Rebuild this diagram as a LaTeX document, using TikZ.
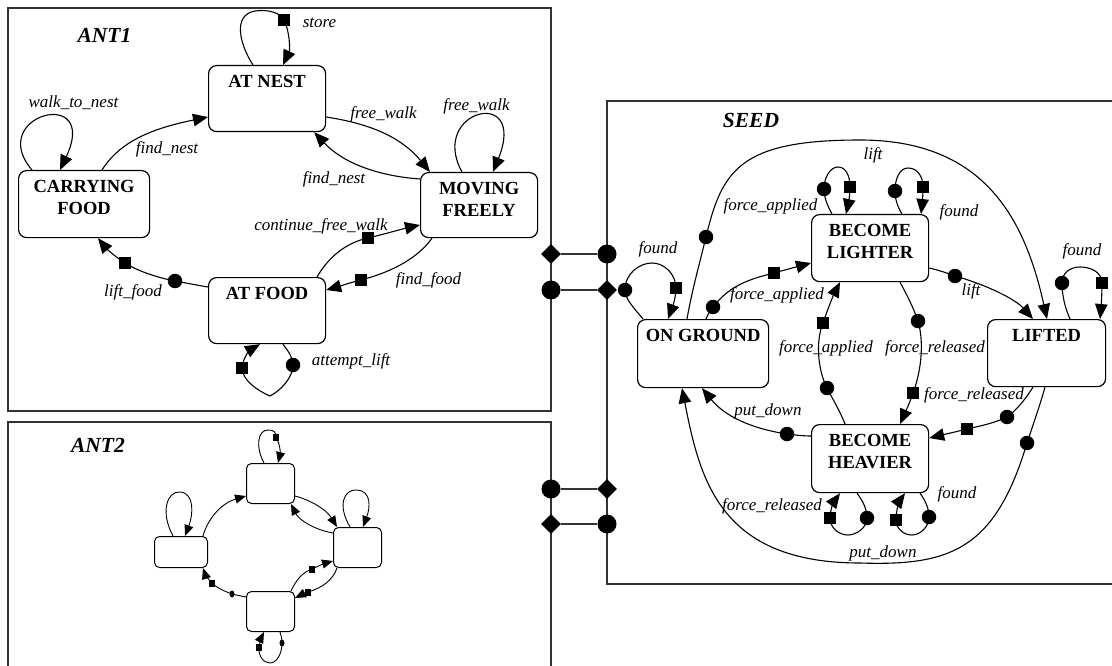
\documentclass[tikz,border=0pt]{standalone}
\usepackage{fontspec}
\setmainfont{Liberation Serif}
\usetikzlibrary{arrows.meta,shapes.geometric}
\newcommand\sttext[3]{\parbox[t][#2][t]{#1}{\centering\rule{0pt}{21.5pt}#3}}
\begin{document}
\begin{tikzpicture}[x=1pt,y=1pt,
  frame/.style={draw=black!80, line width=1.5pt, rectangle, inner sep=0pt, outer sep=0pt, anchor=north west},
  stnode/.style={draw, rounded corners=8pt, line width=1.2pt, inner sep=0pt, anchor=north west,
    font=\fontsize{18.5}{22}\selectfont\bfseries},
  smnode/.style={draw, rounded corners=5pt, line width=1pt, inner sep=0pt, anchor=north west},
  edge/.style={line width=1.1pt, -{Triangle[length=15pt,width=12.5pt]}},
  sedge/.style={line width=0.9pt, -{Triangle[length=11pt,width=9pt]}},
  sq/.style={rectangle, fill, inner sep=0pt, minimum size=12.5pt},
  ci/.style={circle, fill, inner sep=0pt, minimum size=14.5pt},
  sqs/.style={rectangle, fill, inner sep=0pt, minimum width=6pt, minimum height=7pt},
  cis/.style={ellipse, fill, inner sep=0pt, minimum width=5pt, minimum height=7pt},
  pdia/.style={diamond, fill, inner sep=0pt, minimum width=20pt, minimum height=20pt},
  pci/.style={circle, fill, inner sep=0pt, minimum size=19pt},
  portline/.style={line width=1.2pt, draw=black!80},
  lbl/.style={font=\fontsize{17}{17}\selectfont\itshape, inner sep=0pt},
  ttl/.style={font=\fontsize{21.5}{22}\selectfont\bfseries\itshape, inner sep=0pt}
]
\useasboundingbox (0,0) rectangle (1112,-666);
\clip (0,0) rectangle (1112,-666);
\fill[white] (0,0) rectangle (1112,-666);

% ---------- frames ----------
\node[frame, minimum width=543pt, minimum height=403pt] (ant1f) at (8,-8) {};
\node[frame, minimum width=543pt, minimum height=280pt] (ant2f) at (8,-422) {};
\node[frame, minimum width=540pt, minimum height=483pt] (seedf) at (607,-101) {};

\node[ttl] (t1) at (104.5,-35) {ANT1};
\node[ttl] (t2) at (98,-445) {ANT2};
\node[ttl] (t3) at (751,-120) {SEED};

% ---------- ANT1 states ----------
\node[stnode] (atnest) at (208,-65) {\sttext{117pt}{66pt}{AT NEST}};
\node[stnode] (carry) at (18,-170) {\sttext{131pt}{67pt}{CARRYING\\FOOD}};
\node[stnode] (moving) at (420,-172) {\sttext{117pt}{65pt}{MOVING\\FREELY}};
\node[stnode] (atfood) at (208,-277) {\sttext{117pt}{66pt}{AT FOOD}};

% ---------- ANT1 edges ----------
\draw[edge] ([xshift=45pt]atnest.north west) .. controls (240,-45) and (232,-15) .. (255,-11)
  .. controls (268,-9) and (281,-13) .. (284,-20) node[sq] (m1) {}
  .. controls (290,-32) and (290,-50) .. ([xshift=75pt]atnest.north west);
\draw[edge] ([xshift=14pt]carry.north west) .. controls (-15,-115) and (100,-85) .. ([xshift=42pt]carry.north west);
\draw[edge] ([xshift=84pt]carry.north west) .. controls (122,-138) and (160,-127) .. ([yshift=-52pt]atnest.north west);
\draw[edge] ([yshift=-52pt]atnest.north east) .. controls (372,-124) and (402,-138) .. ([xshift=10pt]moving.north west);
\draw[edge] ([yshift=-7pt]moving.north west) .. controls (378,-176) and (343,-163) .. ([xshift=-12pt]atnest.south east);
\draw[edge] ([xshift=42pt]moving.north west) .. controls (428,-110) and (528,-85) .. ([xshift=73pt]moving.north west);
\draw[edge] ([xshift=109pt]atfood.north west) .. controls (328,-258) and (345,-243) .. (368,-238) node[sq] (m2) {}
  .. controls (385,-234) and (402,-229) .. ([yshift=-53pt]moving.north west);
\draw[edge] ([xshift=12pt]moving.south west) .. controls (418,-258) and (392,-272) .. (361,-280) node[sq] (m3) {}
  .. controls (349,-283) and (337,-287) .. ([yshift=-13pt]atfood.north east);
\draw[edge] ([yshift=-10pt]atfood.north west) .. controls (196,-285) and (186,-283) .. (175,-281) node[ci] (m4) {}
  .. controls (155,-277) and (138,-271) .. (125,-263) node[sq] (m5) {}
  .. controls (114,-256) and (105,-247) .. ([xshift=80pt]carry.south west);
\draw[edge] ([xshift=75pt]atfood.south west) .. controls (288,-351) and (293,-357) .. (293,-365) node[ci] (m6) {}
  .. controls (293,-378) and (280,-391) .. (270,-396)
  .. controls (258,-391) and (242,-380) .. (242,-368) node[sq] (m7) {}
  .. controls (242,-360) and (250,-350) .. ([xshift=52pt]atfood.south west);

% ---------- ANT1 labels ----------
\node[lbl] (l1) at (319.5,-23) {store};
\node[lbl] (l2) at (73.5,-103) {walk\_to\_nest};
\node[lbl] (l3) at (167,-149) {find\_nest};
\node[lbl] (l4) at (383.5,-114) {free\_walk};
\node[lbl] (l5) at (476.5,-106) {free\_walk};
\node[lbl] (l6) at (334,-179) {find\_nest};
\node[lbl] (l7) at (321,-226) {continue\_free\_walk};
\node[lbl] (l8) at (428.5,-280) {find\_food};
\node[lbl] (l9) at (133,-292) {lift\_food};
\node[lbl] (l10) at (351,-361) {attempt\_lift};

% ---------- SEED states ----------
\node[stnode] (onground) at (637,-319) {\sttext{131pt}{68pt}{ON GROUND}};
\node[stnode] (lighter) at (811,-214) {\sttext{117pt}{67pt}{BECOME\\LIGHTER}};
\node[stnode] (lifted) at (987,-319) {\sttext{118pt}{67pt}{LIFTED}};
\node[stnode] (heavier) at (811,-424) {\sttext{117pt}{68pt}{BECOME\\HEAVIER}};

% ---------- SEED edges ----------
\draw[edge] ([xshift=50pt]onground.north west) .. controls (692,-290) and (701,-258) .. (706,-237) node[ci] (s1) {}
  .. controls (722,-170) and (740,-140) .. (860,-140)
  .. controls (985,-140) and (1025,-220) .. ([xshift=60pt]lifted.north west);
\draw[edge] ([xshift=6pt]onground.north west) .. controls (634,-308) and (625,-299) .. (625,-290) node[ci] (s2) {}
  .. controls (625,-273) and (640,-263) .. (652,-263)
  .. controls (665,-263) and (676,-275) .. (676,-288) node[sq] (s3) {}
  .. controls (676,-298) and (672,-308) .. ([xshift=31pt]onground.north west);
\draw[edge] ([xshift=69pt]onground.north west) .. controls (708,-314) and (710,-311) .. (713,-307) node[ci] (s4) {}
  .. controls (730,-285) and (750,-279) .. (774,-273) node[sq] (s5) {}
  .. controls (788,-269) and (800,-266) .. ([yshift=-49pt]lighter.north west);
\draw[edge] ([xshift=21pt]lighter.north west) .. controls (827,-205) and (824,-197) .. (824,-189) node[ci] (s6) {}
  .. controls (824,-178) and (830,-167) .. (838,-167)
  .. controls (846,-167) and (850,-176) .. (850,-187) node[sq] (s7) {}
  .. controls (850,-196) and (848,-205) .. ([xshift=35pt]lighter.north west);
\draw[edge] ([xshift=91pt]lighter.north west) .. controls (897,-206) and (895,-198) .. (895,-191) node[ci] (s8) {}
  .. controls (895,-178) and (900,-168) .. (908,-168)
  .. controls (917,-168) and (923,-176) .. (923,-187) node[sq] (s9) {}
  .. controls (923,-196) and (922,-205) .. ([xshift=110pt]lighter.north west);
\draw[edge] ([yshift=-54pt]lighter.north east) .. controls (938,-270) and (947,-273) .. (955,-276) node[ci] (s10) {}
  .. controls (990,-286) and (1016,-300) .. ([xshift=46pt]lifted.north west);
\draw[edge] ([xshift=83pt]lifted.north west) .. controls (1065,-308) and (1062,-295) .. (1062,-283) node[ci] (s11) {}
  .. controls (1062,-273) and (1070,-267) .. (1080,-267)
  .. controls (1092,-267) and (1102,-273) .. (1102,-283) node[sq] (s12) {}
  .. controls (1102,-295) and (1101,-308) .. ([xshift=113pt]lifted.north west);
\draw[edge] ([xshift=89pt]lighter.south west) .. controls (907,-295) and (914,-309) .. (918,-321) node[ci] (s13) {}
  .. controls (925,-345) and (920,-375) .. (913,-393) node[sq] (s14) {}
  .. controls (909,-405) and (904,-415) .. ([xshift=89pt]heavier.north west);
\draw[edge] ([xshift=34pt]heavier.north west) .. controls (840,-411) and (832,-398) .. (827,-388) node[ci] (s15) {}
  .. controls (817,-368) and (816,-340) .. (823,-323) node[sq] (s16) {}
  .. controls (828,-308) and (834,-294) .. ([xshift=29pt]lighter.south west);
\draw[edge] ([xshift=46pt]lifted.south west) .. controls (1026,-398) and (1018,-409) .. (1007,-417) node[ci] (s17) {}
  .. controls (995,-423) and (980,-426) .. (967,-429) node[sq] (s18) {}
  .. controls (955,-432) and (942,-435) .. ([yshift=-14pt]heavier.north east);
\draw[edge] ([xshift=58pt]lifted.south west) .. controls (1040,-405) and (1033,-425) .. (1027,-443) node[ci] (s19) {}
  .. controls (995,-550) and (950,-566) .. (860,-563)
  .. controls (720,-563) and (700,-480) .. ([xshift=45pt]onground.south west);
\draw[edge] ([yshift=-12pt]heavier.north west) .. controls (803,-436) and (795,-435) .. (787,-434) node[ci] (s20) {}
  .. controls (760,-430) and (728,-420) .. ([xshift=65pt]onground.south west);
\draw[edge] ([xshift=46pt]heavier.south west) .. controls (862,-500) and (867,-508) .. (867,-518) node[ci] (s21) {}
  .. controls (867,-528) and (856,-535) .. (848,-535)
  .. controls (838,-535) and (830,-527) .. (830,-518) node[sq] (s22) {}
  .. controls (830,-509) and (835,-500) .. ([xshift=29pt]heavier.south west);
\draw[edge] ([xshift=109pt]heavier.south west) .. controls (925,-500) and (929,-508) .. (929,-517) node[ci] (s23) {}
  .. controls (929,-527) and (920,-535) .. (912,-535)
  .. controls (903,-535) and (896,-528) .. (896,-520) node[sq] (s24) {}
  .. controls (896,-510) and (900,-500) .. ([xshift=94pt]heavier.south west);

% ---------- SEED labels ----------
\node[lbl] (k1) at (770.5,-206) {force\_applied};
\node[lbl] (k2) at (658,-249) {found};
\node[lbl] (k3) at (777,-295) {force\_applied};
\node[lbl] (k4) at (873,-155) {lift};
\node[lbl] (k5) at (959,-212) {found};
\node[lbl] (k6) at (1082,-251) {found};
\node[lbl] (k7) at (971,-291) {lift};
\node[lbl] (k8) at (826,-348) {force\_applied};
\node[lbl] (k9) at (935,-348) {force\_released};
\node[lbl] (k10) at (768,-411) {put\_down};
\node[lbl] (k11) at (974,-395) {force\_released};
\node[lbl] (k12) at (772,-506) {force\_released};
\node[lbl] (k13) at (957,-494) {found};
\node[lbl] (k14) at (883,-553) {put\_down};

% ---------- ANT2 states ----------
\node[smnode, minimum width=48pt, minimum height=40pt] (a2top) at (246,-463) {};
\node[smnode, minimum width=53pt, minimum height=31pt] (a2left) at (154,-536) {};
\node[smnode, minimum width=48pt, minimum height=40pt] (a2right) at (333,-527) {};
\node[smnode, minimum width=48pt, minimum height=40pt] (a2bot) at (246,-591) {};

% ---------- ANT2 edges ----------
\draw[sedge] ([xshift=18pt]a2top.north west) .. controls (255,-446) and (258,-430) .. (268,-430)
  .. controls (274,-430) and (276,-432) .. (276,-437) node[sqs] (n1) {}
  .. controls (281,-446) and (280,-455) .. ([xshift=32pt]a2top.north west);
\draw[sedge] ([xshift=19pt]a2left.north west) .. controls (160,-512) and (167,-491) .. (180,-492)
  .. controls (195,-493) and (193,-515) .. ([xshift=31pt]a2left.north west);
\draw[sedge] ([xshift=17pt]a2right.north west) .. controls (337,-505) and (344,-489) .. (357,-490)
  .. controls (372,-491) and (370,-508) .. ([xshift=30pt]a2right.north west);
\draw[sedge] ([xshift=-5pt]a2left.north east) .. controls (208,-518) and (222,-503) .. ([yshift=-33pt]a2top.north west);
\draw[sedge] ([yshift=-33pt]a2top.north east) .. controls (310,-500) and (326,-509) .. ([xshift=4pt]a2right.north west);
\draw[sedge] ([yshift=-6pt]a2right.north west) .. controls (315,-530) and (299,-520) .. ([xshift=-4pt]a2top.south east);
\draw[sedge] ([xshift=-4pt]a2bot.north east) .. controls (296,-580) and (303,-572) .. (312,-569) node[sqs] (n2) {}
  .. controls (318,-566) and (326,-563) .. ([yshift=7pt]a2right.south west);
\draw[sedge] ([xshift=4pt]a2right.south west) .. controls (333,-580) and (322,-588) .. (308,-592) node[sqs] (n3) {}
  .. controls (303,-594) and (299,-596) .. ([yshift=-7pt]a2bot.north east);
\draw[sedge] ([yshift=-6pt]a2bot.north west) .. controls (241,-596) and (236,-595) .. (232,-594) node[cis] (n4) {}
  .. controls (224,-591) and (217,-588) .. (212,-583) node[sqs] (n5) {}
  .. controls (208,-579) and (205,-574) .. ([xshift=-5pt]a2left.south east);
\draw[sedge] ([xshift=34pt]a2bot.south west) .. controls (281,-635) and (282,-639) .. (282,-643) node[cis] (n6) {}
  .. controls (282,-655) and (276,-663) .. (270,-663)
  .. controls (263,-663) and (258,-655) .. (259,-647) node[sqs] (n7) {}
  .. controls (260,-641) and (262,-636) .. ([xshift=18pt]a2bot.south west);

% ---------- ports ----------
\node[pdia] (p1) at ([yshift=-246pt]ant1f.north east) {};
\node[pci]  (p2) at ([yshift=-153pt]seedf.north west) {};
\node[pci]  (p3) at ([yshift=-282pt]ant1f.north east) {};
\node[pdia] (p4) at ([yshift=-189pt]seedf.north west) {};
\node[pci]  (p5) at ([yshift=-67pt]ant2f.north east) {};
\node[pdia] (p6) at ([yshift=-388pt]seedf.north west) {};
\node[pdia] (p7) at ([yshift=-102pt]ant2f.north east) {};
\node[pci]  (p8) at ([yshift=-423pt]seedf.north west) {};
\draw[portline] (p1) -- (p2);
\draw[portline] (p3) -- (p4);
\draw[portline] (p5) -- (p6);
\draw[portline] (p7) -- (p8);
\end{tikzpicture}
\end{document}
